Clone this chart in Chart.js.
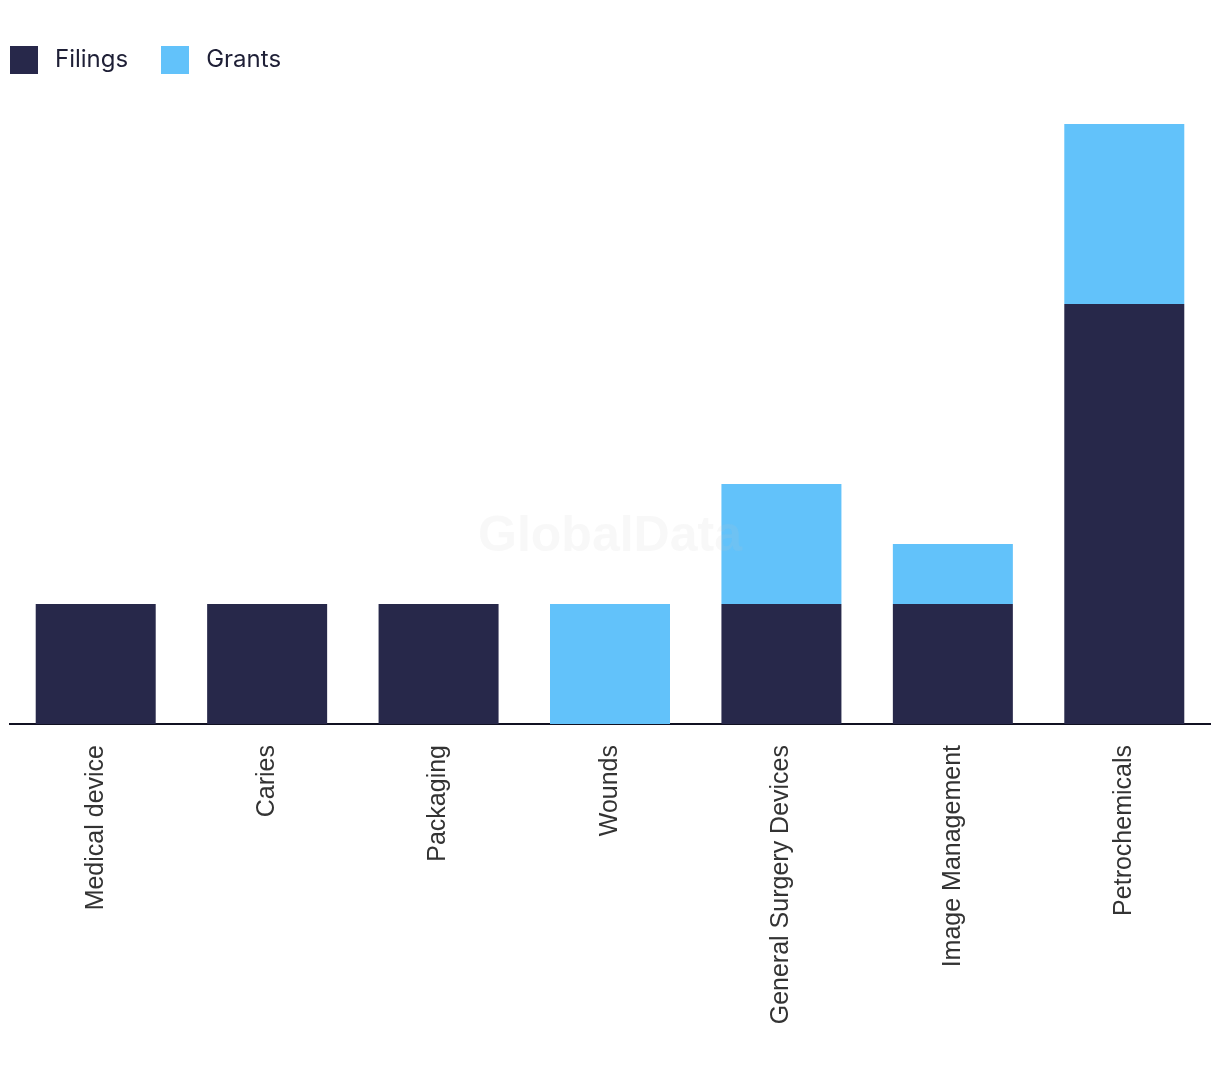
<!DOCTYPE html>
<html>
<head>
<meta charset="utf-8">
<script src="https://cdn.jsdelivr.net/npm/chart.js@4/dist/chart.umd.min.js"></script>
<style>
  html, body { margin: 0; padding: 0; background: #fff; }
  #wrap { position: relative; width: 1220px; height: 1074px; }
  #legend { position: absolute; left: 10px; top: 46px; display: flex; font-family: Inter, "Open Sans", sans-serif; font-size: 24px; color: #1e1f36; }
  .item { display: flex; align-items: center; height: 28px; margin-right: 33px; }
  .item span:last-child { position: relative; top: -2px; }
  .box { width: 28px; height: 28px; margin-right: 17px; }
</style>
</head>
<body>
<div id="wrap">
  <div id="legend"></div>
  <canvas id="chart1" width="1220" height="1074"></canvas>
</div>
<script>
"use strict";

const categories = [
    'Medical device',
    'Caries',
    'Packaging',
    'Wounds',
    'General Surgery Devices',
    'Image Management',
    'Petrochemicals',
];
const filings = [2, 2, 2, 0, 2, 2, 7];
const grants = [0, 0, 0, 2, 2, 1, 3];

const darkBlue = '#27284a';
const lightBlue = '#62c2fa';

// legend drawn as html so the spacing matches
const legendEl = document.getElementById('legend');
[['Filings', darkBlue], ['Grants', lightBlue]].forEach(([name, color]) => {
    const item = document.createElement('div');
    item.className = 'item';
    item.innerHTML = `<span class="box" style="background:${color}"></span><span>${name}</span>`;
    legendEl.appendChild(item);
});

const watermark = {
    id: 'watermark',
    afterDatasetsDraw(chart) {
        const ctx = chart.ctx;
        ctx.save();
        ctx.font = 'bold 50px "Liberation Sans", Arial, sans-serif';
        ctx.fillStyle = 'rgba(200, 200, 200, 0.12)';
        ctx.textAlign = 'center';
        ctx.textBaseline = 'middle';
        ctx.fillText('GlobalData', chart.width / 2, chart.height / 2);
        ctx.restore();
    }
};

const data = {
    labels: categories,
    datasets: [{
        label: 'Filings',
        backgroundColor: darkBlue,
        data: filings,
    }, {
        label: 'Grants',
        backgroundColor: lightBlue,
        data: grants,
    }]
};

const config = {
    type: 'bar',
    data: data,
    options: {
        responsive: false,
        animation: false,
        layout: { padding: { top: 124, left: 10, right: 10, bottom: 0 } },
        datasets: {
            bar: { barPercentage: 0.7, categoryPercentage: 1 }
        },
        plugins: {
            legend: { display: false },
            tooltip: { enabled: false },
        },
        scales: {
            x: {
                stacked: true,
                grid: { display: false },
                border: { display: true, color: '#111122', width: 2 },
                ticks: {
                    minRotation: 90,
                    maxRotation: 90,
                    padding: 13,
                    color: '#333333',
                    font: { family: '"Liberation Sans", Arial, sans-serif', size: 25 },
                },
                afterFit(scale) { scale.height = 350; },
            },
            y: {
                stacked: true,
                display: false,
                min: 0,
                max: 10,
            }
        }
    },
    plugins: [watermark]
};

const myChart = new Chart(document.getElementById('chart1'), config);
</script>
</body>
</html>
